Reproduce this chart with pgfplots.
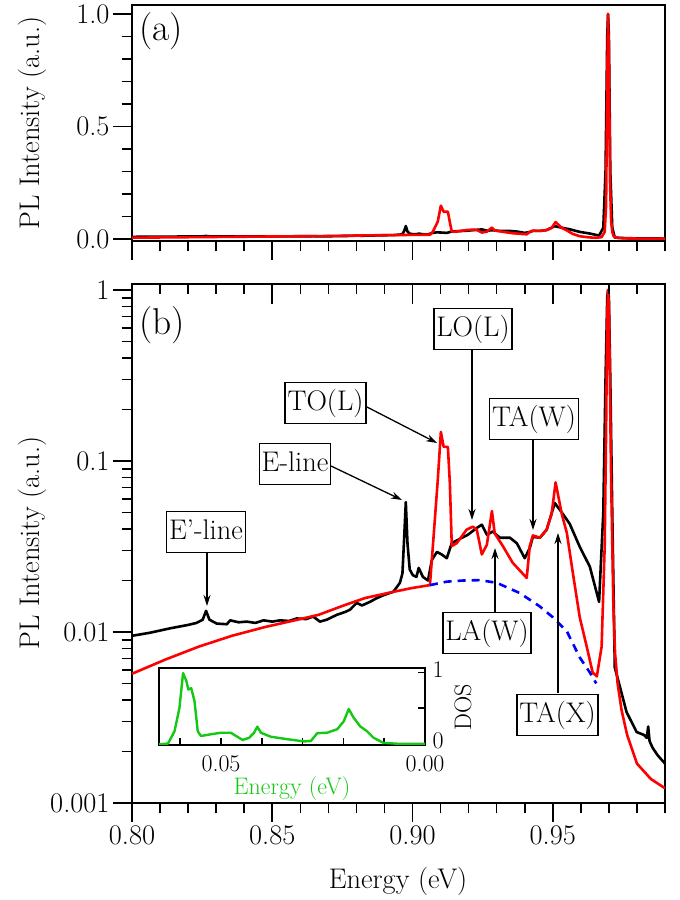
\documentclass[border=0pt]{standalone}
\usepackage{fontspec}
\usepackage{pgfplots}
\pgfplotsset{compat=1.18}
\usepackage{pgfplotstable}
\usetikzlibrary{arrows.meta}
\definecolor{dosgreen}{RGB}{20,200,20}

\pgfplotstableread{
E I
0.8000 0.0095
0.8064 0.0099
0.8135 0.0105
0.8200 0.0110
0.8230 0.0113
0.8252 0.0118
0.8264 0.0133
0.8276 0.0118
0.8302 0.0112
0.8338 0.0111
0.8350 0.0117
0.8380 0.0114
0.8409 0.0115
0.8440 0.0113
0.8469 0.0117
0.8500 0.0115
0.8528 0.0117
0.8560 0.0116
0.8587 0.0120
0.8620 0.0119
0.8646 0.0123
0.8670 0.0115
0.8694 0.0118
0.8730 0.0126
0.8760 0.0131
0.8777 0.0135
0.8801 0.0148
0.8820 0.0143
0.8848 0.0150
0.8870 0.0157
0.8896 0.0164
0.8932 0.0172
0.8955 0.0194
0.8964 0.0220
0.8970 0.0350
0.8976 0.0575
0.8982 0.0330
0.8990 0.0232
0.9001 0.0215
0.9014 0.0210
0.9022 0.0237
0.9037 0.0210
0.9055 0.0200
0.9069 0.0264
0.9087 0.0294
0.9104 0.0284
0.9122 0.0270
0.9140 0.0331
0.9168 0.0350
0.9197 0.0370
0.9229 0.0406
0.9247 0.0424
0.9265 0.0370
0.9286 0.0387
0.9311 0.0356
0.9347 0.0356
0.9372 0.0330
0.9400 0.0270
0.9418 0.0310
0.9429 0.0360
0.9454 0.0356
0.9478 0.0396
0.9507 0.0568
0.9532 0.0500
0.9560 0.0430
0.9596 0.0315
0.9632 0.0241
0.9665 0.0150
0.9680 0.0500
0.9688 0.3000
0.9694 0.9000
0.9697 1.0000
0.9700 0.9000
0.9705 0.3000
0.9712 0.0500
0.9721 0.0062
0.9739 0.0048
0.9763 0.0034
0.9799 0.0026
0.9825 0.0025
0.9835 0.0024
0.9840 0.0028
0.9845 0.0023
0.9856 0.0021
0.9874 0.0019
0.9900 0.0017
}\blackdata

\pgfplotstableread{
E I
0.8000 0.0057
0.8119 0.0069
0.8237 0.0082
0.8356 0.0095
0.8475 0.0107
0.8570 0.0116
0.8665 0.0126
0.8760 0.0144
0.8831 0.0158
0.8926 0.0171
0.9000 0.0181
0.9062 0.0188
0.9072 0.0310
0.9090 0.0775
0.9101 0.1480
0.9111 0.1210
0.9126 0.1210
0.9133 0.0745
0.9140 0.0318
0.9158 0.0331
0.9193 0.0397
0.9215 0.0413
0.9229 0.0397
0.9247 0.0284
0.9265 0.0324
0.9283 0.0510
0.9293 0.0377
0.9322 0.0318
0.9357 0.0254
0.9407 0.0207
0.9418 0.0318
0.9429 0.0367
0.9454 0.0356
0.9478 0.0396
0.9496 0.0493
0.9510 0.0750
0.9532 0.0490
0.9550 0.0380
0.9571 0.0224
0.9596 0.0122
0.9621 0.0082
0.9642 0.0058
0.9657 0.0055
0.9674 0.0082
0.9685 0.0318
0.9690 0.1500
0.9694 0.7000
0.9697 1.0000
0.9700 0.8000
0.9704 0.2500
0.9708 0.0770
0.9712 0.0330
0.9716 0.0140
0.9722 0.0075
0.9731 0.0050
0.9745 0.0035
0.9765 0.0025
0.9800 0.0017
0.9850 0.00138
0.9900 0.00122
}\reddata

\pgfplotstableread{
E I
0.9062 0.0188
0.9122 0.0197
0.9180 0.0200
0.9240 0.0201
0.9300 0.0194
0.9382 0.0169
0.9454 0.0141
0.9500 0.0122
0.9550 0.0101
0.9596 0.0071
0.9632 0.0058
0.9655 0.0050
}\bluedata

\pgfplotstableread{
E D
0.0000 0.005
0.0069 0.008
0.0102 0.020
0.0126 0.090
0.0142 0.180
0.0159 0.250
0.0175 0.370
0.0187 0.490
0.0199 0.320
0.0215 0.210
0.0240 0.160
0.0264 0.155
0.0280 0.045
0.0297 0.040
0.0337 0.070
0.0378 0.105
0.0402 0.160
0.0411 0.245
0.0419 0.160
0.0431 0.090
0.0447 0.060
0.0463 0.115
0.0476 0.160
0.0500 0.160
0.0524 0.140
0.0549 0.115
0.0557 0.180
0.0565 0.600
0.0573 0.780
0.0580 0.760
0.0585 0.880
0.0593 0.990
0.0602 0.500
0.0614 0.180
0.0630 0.010
0.0652 0.000
}\dosdata

\newcommand{\bigf}{\fontsize{28.5}{33}\selectfont}
\newcommand{\smallf}{\fontsize{24}{28}\selectfont}

\begin{document}
\begin{tikzpicture}[x=1bp,y=1bp]
\useasboundingbox (0,0) rectangle (680,900);
\pgfplotsset{
  every axis/.append style={scale only axis, anchor=south west,
    axis line style={line width=1.6bp},
    tick style={line width=1.6bp, black},
    major tick length=19bp, minor tick length=10.5bp,
    tick label style={font=\bigf},
    /pgf/number format/assume math mode=true},
  mainx/.style={xmin=0.80, xmax=0.99,
    xtick={0.80,0.85,0.90,0.95},
    minor xtick={0.81,0.82,0.83,0.84,0.86,0.87,0.88,0.89,0.91,0.92,0.93,0.94,0.96,0.97,0.98,0.99}},
}
% ---------- panel (a)
\begin{axis}[at={(132bp,659bp)}, width=533bp, height=236bp, mainx,
  ymin=-0.009, ymax=1.04, ytick={0,0.5,1},
  minor ytick={0.1,0.2,0.3,0.4,0.6,0.7,0.8,0.9},
  tick align=outside, xtick pos=bottom, ytick pos=left,
  xticklabels={},
  yticklabel style={/pgf/number format/fixed, /pgf/number format/fixed zerofill, /pgf/number format/precision=1}]
\addplot[black, line width=2.6bp, line join=round] table[x=E,y=I]{\blackdata};
\addplot[red, line width=2.6bp, line join=round] table[x=E,y=I]{\reddata};
\end{axis}
% ---------- panel (b)
\begin{axis}[at={(132bp,97bp)}, width=533bp, height=519bp, mainx, ymode=log,
  ymin=0.001, ymax=1.084, ytick={0.001,0.01,0.1,1},
  yticklabels={0.001,0.01,0.1,1},
  minor ytick={0.002,0.003,0.004,0.005,0.006,0.007,0.008,0.009,0.02,0.03,0.04,0.05,0.06,0.07,0.08,0.09,0.2,0.3,0.4,0.5,0.6,0.7,0.8,0.9},
  tick align=outside, xtick pos=bottom, ytick pos=left,
  xticklabel style={/pgf/number format/fixed, /pgf/number format/fixed zerofill, /pgf/number format/precision=2}]
\addplot[black, line width=2.6bp, line join=round] table[x=E,y=I]{\blackdata};
\addplot[red, line width=2.6bp, line join=round] table[x=E,y=I]{\reddata};
\addplot[blue, line width=2.6bp, dash pattern=on 8bp off 6bp] table[x=E,y=I]{\bluedata};
\end{axis}
\begin{axis}[at={(132bp,97bp)}, width=533bp, height=519bp, mainx, ymode=log,
  ymin=0.001, ymax=1.084, axis x line*=top, hide y axis,
  xticklabels={}, tick align=inside, major tick length=20bp, minor tick length=10bp]
\end{axis}
% ---------- inset
\begin{axis}[at={(159bp,155bp)}, width=266bp, height=77bp,
  xmin=0, xmax=0.0652, x dir=reverse, ymin=-0.01, ymax=1.06,
  axis background/.style={fill=white},
  scaled x ticks=false,
  xtick={0,0.05}, minor xtick={0.01,0.02,0.03,0.04,0.06},
  ytick={0,0.5,1}, yticklabels={0,,1},
  ytick pos=right, yticklabel pos=right, xtick pos=bottom,
  tick align=inside,
  major tick length=7bp, minor tick length=7bp,
  tick label style={font=\smallf, inner sep=1.5bp},
  yticklabel style={xshift=6bp, yshift=3bp},
  xticklabel style={yshift=-9bp, /pgf/number format/fixed, /pgf/number format/fixed zerofill, /pgf/number format/precision=2}]
\addplot[dosgreen, line width=2.4bp, line join=round] table[x=E,y=D]{\dosdata};
\end{axis}
% ---------- labels
\node[font=\fontsize{37.5}{42}\selectfont] at (161,869) {(a)};
\node[font=\fontsize{37.5}{42}\selectfont] at (162,575) {(b)};
\node[font=\bigf, rotate=90] at (32,777) {PL Intensity (a.u.)};
\node[font=\bigf, rotate=90] at (32,357) {PL Intensity (a.u.)};
\node[font=\bigf] at (398,19) {Energy (eV)};
\node[font=\smallf, text=dosgreen] at (292,111) {Energy (eV)};
\node[font=\smallf, rotate=90] at (463,193) {DOS};
% ---------- annotations
\tikzset{lbl/.style={draw, line width=1.3bp, fill=white, font=\bigf,
   inner xsep=2.5bp, inner ysep=6.5bp, text height=21.4bp, text depth=7.1bp},
   arr/.style={line width=1.3bp, -{Stealth[length=11bp,width=7bp]}}}
\draw[arr] (365,494) -- (437,457);
\node[lbl] at (325.5,497) {TO(L)};
\draw[arr] (331,434) -- (402,400);
\node[lbl] at (295,436) {E-line};
\draw[arr] (207,347) -- (207,294);
\node[lbl] at (206,368) {E'-line};
\draw[arr] (472,551) -- (472,380);
\node[lbl] at (473,571) {LO(L)};
\draw[arr] (533,460) -- (533,370);
\node[lbl] at (534,481) {TA(W)};
\draw[arr] (495,288) -- (495,352);
\node[lbl] at (487,267) {LA(W)};
\draw[arr] (558,207) -- (558,367);
\node[lbl] at (557.5,185) {TA(X)};
\end{tikzpicture}
\end{document}
